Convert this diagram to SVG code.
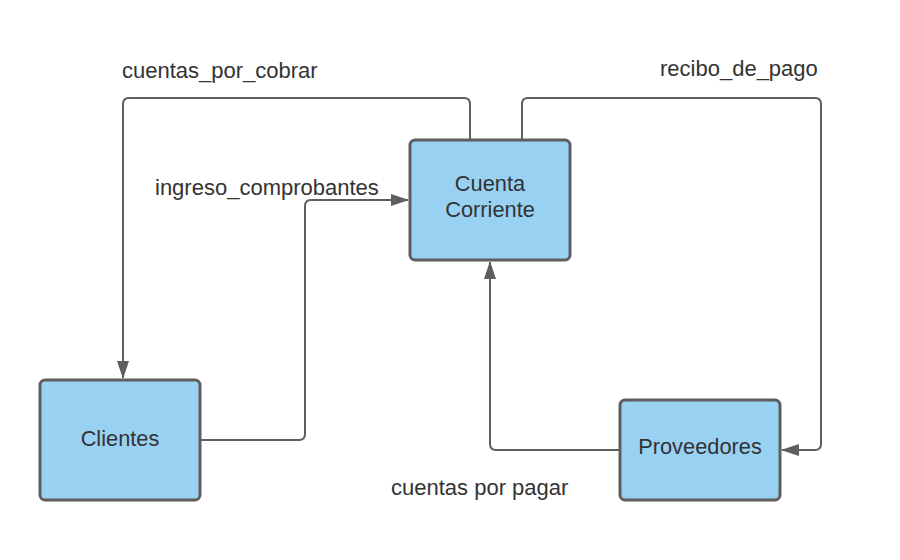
<svg xmlns="http://www.w3.org/2000/svg" width="900" height="560" viewBox="0 0 900 560">
<style>
.node rect{fill:#99d1f3;stroke:#5e5e5e;stroke-width:3}
.node text{font-family:"Liberation Sans",Arial,sans-serif;font-size:21.8px;fill:#333;text-anchor:middle}
.edge{fill:none;stroke:#5e5e5e;stroke-width:2}
.lbl{font-family:"Liberation Sans",Arial,sans-serif;font-size:22px;fill:#333}
</style>
<defs>
<marker id="arr" markerWidth="18" markerHeight="12" refX="17" refY="6" orient="auto" markerUnits="userSpaceOnUse">
<path d="M0,0 L18,6 L0,12 Z" fill="#5e5e5e"/>
</marker>
</defs>
<rect width="900" height="560" fill="#fff"/>
<g id="connectors">
<path class="edge" d="M470,140 V104 Q470,98 464,98 H129 Q123,98 123,104 V378" marker-end="url(#arr)"/>
<path class="edge" d="M522,140 V104 Q522,98 528,98 H815 Q821,98 821,104 V444 Q821,450 815,450 H782" marker-end="url(#arr)"/>
<path class="edge" d="M200,440 H299 Q305,440 305,434 V206 Q305,200 311,200 H408" marker-end="url(#arr)"/>
<path class="edge" d="M620,450 H496 Q490,450 490,444 V262" marker-end="url(#arr)"/>
</g>
<g id="cuenta-corriente" class="node">
<rect x="410" y="140" width="160" height="120" rx="5"/>
<text x="490" y="191">Cuenta</text>
<text x="490" y="217">Corriente</text>
</g>
<g id="clientes" class="node">
<rect x="40" y="380" width="160" height="120" rx="5"/>
<text x="120" y="446">Clientes</text>
</g>
<g id="proveedores" class="node">
<rect x="620" y="400" width="160" height="100" rx="5"/>
<text x="700" y="454">Proveedores</text>
</g>
<g id="labels">
<text class="lbl" x="122" y="78">cuentas_por_cobrar</text>
<text class="lbl" x="155" y="195">ingreso_comprobantes</text>
<text class="lbl" x="660" y="76">recibo_de_pago</text>
<text class="lbl" x="391" y="495">cuentas por pagar</text>
</g>
</svg>
